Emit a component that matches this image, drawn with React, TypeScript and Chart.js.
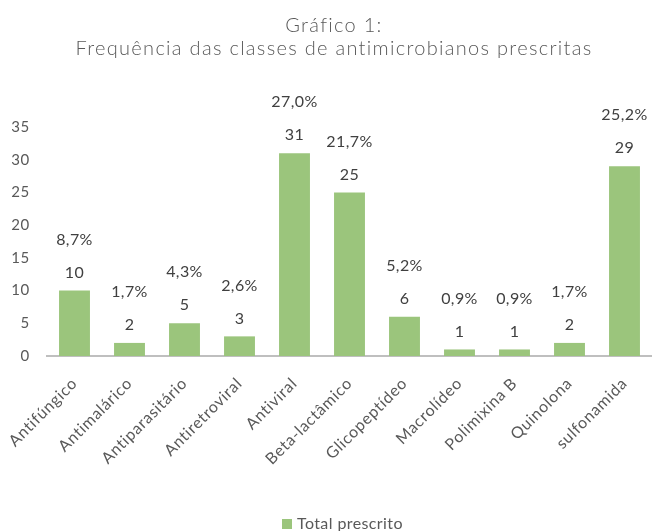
import React, { useEffect, useRef } from "react";
import { Chart, registerables } from "chart.js";

Chart.register(...registerables);

const categories = [
  "Antifúngico",
  "Antimalárico",
  "Antiparasitário",
  "Antiretroviral",
  "Antiviral",
  "Beta-lactâmico",
  "Glicopeptídeo",
  "Macrolídeo",
  "Polimixina B",
  "Quinolona",
  "sulfonamida",
];
const totals = [10, 2, 5, 3, 31, 25, 6, 1, 1, 2, 29];
const percents = ["8,7%", "1,7%", "4,3%", "2,6%", "27,0%", "21,7%", "5,2%", "0,9%", "0,9%", "1,7%", "25,2%"];
const titleLines = ["Gráfico 1:", "Frequência das classes de antimicrobianos prescritas"];
const seriesName = "Total prescrito";

const FONT = "Lato, 'Open Sans', sans-serif";
const TEXT = "#595959";
const BAR = "#9BC57C";

const spacingPlugin = {
  id: "spacing",
  beforeUpdate(chart: any) {
    chart.ctx.letterSpacing = "0.7px";
  },
  beforeDraw(chart: any) {
    chart.ctx.letterSpacing = "0.7px";
  },
};

const decorPlugin = {
  id: "decor",
  afterDatasetsDraw(chart: any) {
    const ctx = chart.ctx;
    const meta = chart.getDatasetMeta(0);
    ctx.save();
    ctx.letterSpacing = "0.4px";
    ctx.font = `16px ${FONT}`;
    ctx.fillStyle = "#404040";
    ctx.textAlign = "center";
    ctx.textBaseline = "middle";
    meta.data.forEach((bar: any, i: number) => {
      ctx.fillText(String(totals[i]), bar.x, bar.y - 18);
      ctx.fillText(percents[i], bar.x, bar.y - 51);
    });
    ctx.restore();
  },
  afterDraw(chart: any) {
    const ctx = chart.ctx;
    ctx.save();
    // title
    ctx.letterSpacing = "1.3px";
    ctx.font = `300 20px ${FONT}`;
    ctx.fillStyle = TEXT;
    ctx.textAlign = "center";
    ctx.textBaseline = "alphabetic";
    ctx.fillText(titleLines[0], 334, 32);
    ctx.fillText(titleLines[1], 334, 55);
    // legend
    ctx.letterSpacing = "0.4px";
    ctx.fillStyle = BAR;
    ctx.fillRect(282, 519, 10, 10);
    ctx.fillStyle = TEXT;
    ctx.font = `16px ${FONT}`;
    ctx.textAlign = "left";
    ctx.fillText(seriesName, 297, 529);
    ctx.restore();
  },
};

export default function App() {
  const ref = useRef<HTMLCanvasElement | null>(null);
  useEffect(() => {
    if (!ref.current) return;
    const chart = new Chart(ref.current, {
      type: "bar",
      data: {
        labels: categories,
        datasets: [
          {
            label: seriesName,
            data: totals,
            backgroundColor: BAR,
            borderWidth: 0,
            barPercentage: 0.562,
            categoryPercentage: 1,
          },
        ],
      },
      options: {
        animation: false,
        responsive: false,
        maintainAspectRatio: false,
        layout: { padding: { top: 127, right: 0, left: 0, bottom: 0 } },
        plugins: {
          title: { display: false },
          legend: { display: false },
          tooltip: { enabled: false },
        },
        scales: {
          x: {
            afterFit(scale: any) {
              scale.height = 175;
              scale.paddingLeft = 0;
              scale.paddingRight = 0;
            },
            grid: { display: false, drawTicks: false },
            border: { display: true, color: "#BFBFBF", width: 2 },
            ticks: {
              color: TEXT,
              font: { family: FONT, size: 16 },
              maxRotation: 45,
              minRotation: 45,
              padding: 18,
              autoSkip: false,
            },
          },
          y: {
            min: 0,
            max: 35,
            afterFit(scale: any) {
              scale.width = 47;
            },
            grid: { display: false, drawTicks: false },
            border: { display: false },
            ticks: {
              stepSize: 5,
              color: TEXT,
              font: { family: FONT, size: 15 },
              padding: 17,
            },
          },
        },
      },
      plugins: [spacingPlugin, decorPlugin],
    });
    return () => chart.destroy();
  }, []);
  return (
    <div style={{ position: "fixed", left: 0, top: 0, width: 652, height: 531, background: "#fff" }}>
      <canvas ref={ref} width={652} height={531} style={{ width: 652, height: 531, display: "block" }} />
    </div>
  );
}
